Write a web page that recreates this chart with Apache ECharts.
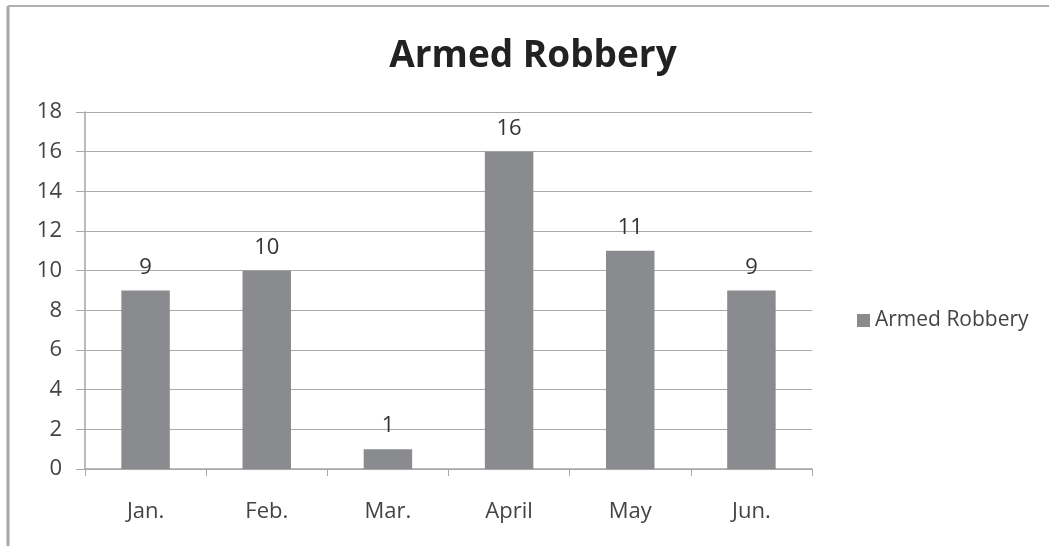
<!DOCTYPE html>
<html>
<head>
<meta charset="utf-8">
<script src="https://cdn.jsdelivr.net/npm/echarts@6/dist/echarts.min.js"></script>
<style>
    html, body { margin: 0; padding: 0; background: #fff; }
    #chart { width: 1049px; height: 546px; }
</style>
</head>
<body>
<div id="chart"></div>
<script>
// Armed Robbery by month
var months = ['Jan.', 'Feb.', 'Mar.', 'April', 'May', 'Jun.'];
var robberies = [9, 10, 1, 16, 11, 9];
var seriesName = 'Armed Robbery';

var chart = echarts.init(document.getElementById('chart'));
var font = '"Open Sans", "DejaVu Sans", sans-serif';
var option = {
    animation: false,
    backgroundColor: '#ffffff',
    title: {
        text: 'Armed Robbery',
        left: 528,
        textAlign: 'center',
        top: 33,
        textStyle: {
            fontFamily: font,
            fontSize: 37,
            fontWeight: 'bold',
            color: '#222'
        }
    },
    legend: {
        data: [seriesName],
        left: 852,
        top: 305,
        itemWidth: 13,
        itemHeight: 13,
        itemGap: 8,
        icon: 'rect',
        textStyle: { fontFamily: font, fontSize: 21, color: '#444' }
    },
    graphic: [
        // outer frame (left and top edges only)
        { type: 'line', shape: { x1: 8, y1: 6, x2: 8, y2: 546 }, style: { stroke: '#a8a8a8', lineWidth: 3 } },
        { type: 'line', shape: { x1: 8, y1: 6, x2: 1049, y2: 6 }, style: { stroke: '#b0b0b0', lineWidth: 2 } }
    ],
    grid: {
        left: 85,
        right: 237,
        top: 112,
        bottom: 77
    },
    xAxis: {
        type: 'category',
        data: months,
        axisLine: { lineStyle: { color: '#a6a6a6', width: 1.5 } },
        axisTick: { show: true, length: 7, lineStyle: { color: '#a6a6a6' } },
        axisLabel: { margin: 32, fontFamily: font, fontSize: 22, color: '#444' }
    },
    yAxis: {
        type: 'value',
        min: 0,
        max: 18,
        interval: 2,
        axisLine: { show: true, lineStyle: { color: '#a6a6a6', width: 1.5 } },
        axisTick: { show: true, length: 9, inside: false, lineStyle: { color: '#a6a6a6' } },
        axisLabel: { margin: 23, fontFamily: font, fontSize: 22, color: '#444' },
        splitLine: { lineStyle: { color: '#aaaaaa', width: 1.2 } }
    },
    series: [
        {
            name: seriesName,
            type: 'bar',
            data: robberies,
            barWidth: '40%',
            itemStyle: { color: '#8a8b8e' },
            label: {
                show: true,
                position: 'top',
                distance: 12,
                fontFamily: font,
                fontSize: 22,
                color: '#333'
            }
        }
    ]
};
chart.setOption(option);
</script>
</body>
</html>
